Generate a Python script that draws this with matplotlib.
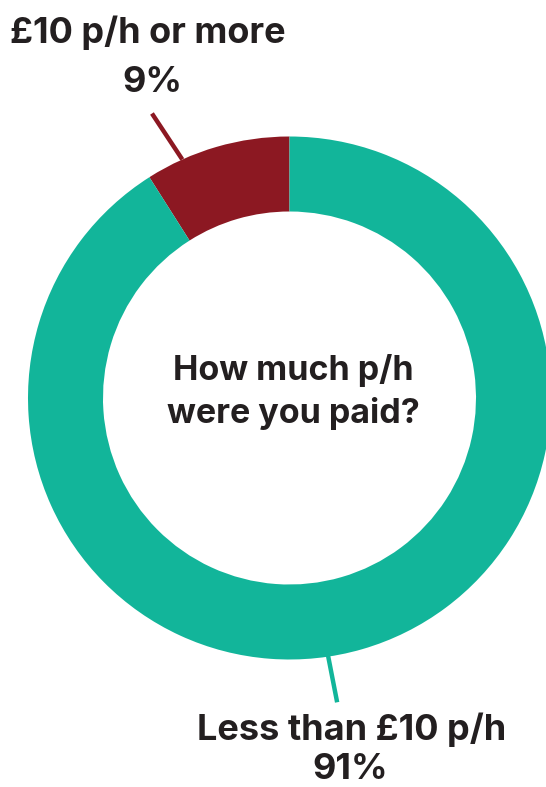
import numpy as np
import matplotlib
matplotlib.use("Agg")
import matplotlib.pyplot as plt

categories = ["£10 p/h or more", "Less than £10 p/h"]
values = [9, 91]
colors = ["#8C1822", "#12B59A"]
center_lines = ["How much p/h", "were you paid?"]

W, H = 546, 787
fig = plt.figure(figsize=(W / 100, H / 100), dpi=100)
ax = fig.add_axes([0, 0, 1, 1])
ax.set_xlim(0, W)
ax.set_ylim(0, H)
ax.set_aspect("equal")
ax.axis("off")

cx, cy = 289.5, H - 398
R = 261.5
width = 75

wedges, _ = ax.pie(values, colors=colors, startangle=90, counterclock=True,
                   radius=R, center=(cx, cy),
                   wedgeprops=dict(width=width, linewidth=0))
ax.set_xlim(0, W)
ax.set_ylim(0, H)

font = "Inter"
txt_kw = dict(family=font, fontweight="bold", color="#231F20", ha="center",
              va="baseline")

# center text
ax.text(293, H - 380, center_lines[0], fontsize=24.5, **txt_kw)
ax.text(293, H - 423, center_lines[1], fontsize=24.5, **txt_kw)

# leader lines (angles as annotation layout)
def polar(ang, r):
    a = np.deg2rad(ang)
    return cx + r * np.cos(a), cy + r * np.sin(a)

x0, y0 = polar(114.2, R)
x1, y1 = polar(115.8, 316)
ax.plot([x0, x1], [y0, y1], color=colors[0], lw=3.2, solid_capstyle="butt")
x0, y0 = polar(-81.5, R - 2)
x1, y1 = polar(-81.1, 308)
ax.plot([x0, x1], [y0, y1], color=colors[1], lw=3.2, solid_capstyle="butt")

# labels
ax.text(148, H - 43, categories[0], fontsize=26, **txt_kw)
ax.text(152, H - 92, f"{values[0]}%", fontsize=26, **txt_kw)
ax.text(352, H - 740, categories[1], fontsize=26, **txt_kw)
kw2 = dict(txt_kw, va="bottom")
ax.text(350, 1, f"{values[1]}%", fontsize=26, **kw2)

fig.savefig("out.png", dpi=100, facecolor="white")
